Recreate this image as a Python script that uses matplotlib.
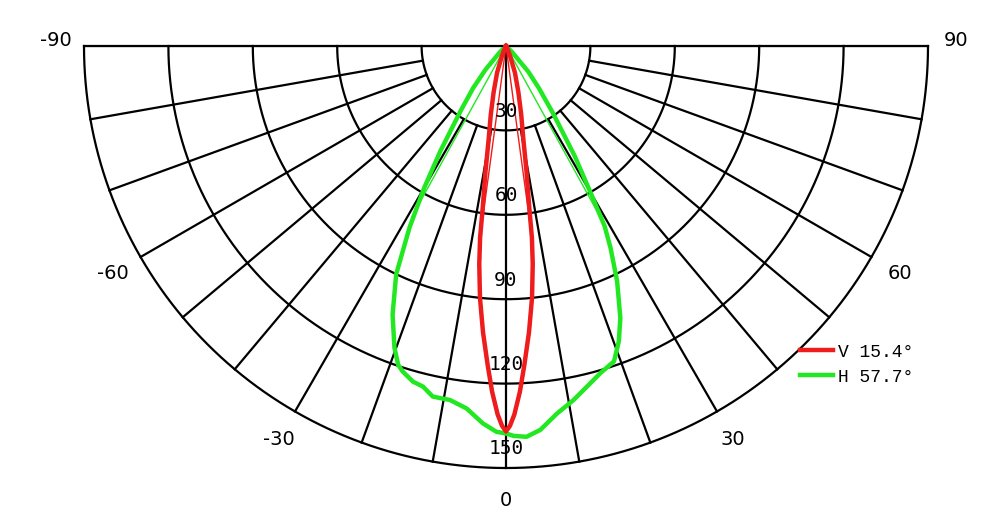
import numpy as np
import matplotlib.pyplot as plt

# Rings and angle labels
ring_values = [30, 60, 90, 120, 150]
angle_ticks = [-90, -60, -30, 0, 30, 60, 90]
spoke_angles = [a for a in range(-80, 90, 10) if a != 0]

# V curve (narrow beam), angle in degrees, intensity
v_angles = [-90, -30, -25, -22, -18.5, -15, -12.5, -10.5, -9.3, -8.2, -7.7, -7.0, -5.9,
            -4.6, -3.3, -2.3, -1.3, -0.6, 0, 0.6, 1.3, 2.3, 3.3, 4.6, 5.9, 7.0, 7.7,
            8.2, 9.3, 10.5, 12.5, 15, 18.5, 22, 25, 30, 90]
v_values = [0, 0, 2, 4, 10, 17, 25, 34, 45, 58, 68.7, 78, 90,
            102, 113.5, 123, 131, 135, 137, 135, 131, 123, 113.5, 102, 90, 78, 68.7,
            58, 45, 34, 25, 17, 10, 4, 2, 0, 0]

# H curve (wide beam)
h_angles = [-90, -50, -45, -41, -38, -35, -32, -30, -28, -25.7, -22.9, -20.3, -18.7,
            -17.6, -15.5, -13.7, -11.8, -9.0, -6.2, -3.5, -1.4, 0, 1.1, 3.0, 5.1, 7.9,
            10.8, 14.0, 16.1, 18.9, 20.9, 22.8, 25.3, 27.4, 28.7, 30, 32, 35, 38, 41,
            45, 50, 90]
h_values = [0, 0, 3, 11, 19, 28, 44, 58, 73, 90, 103.6, 114.3, 119.6,
            121.4, 123.8, 124.6, 127.3, 127.4, 129.6, 134.4, 137.2, 137.7, 138.6, 139.1, 137, 131.9,
            128.1, 123.6, 121, 118.5, 112.4, 104.9, 92.4, 80.7, 73, 60, 46, 29, 19, 12,
            3, 0, 0]

v_beam = 15.4
h_beam = 57.7
red = '#ee1c1c'
green = '#22e822'

fig = plt.figure(figsize=(10, 5.19), dpi=100)
# polar axes keep a square box; the half disc sits in the middle of it
ax = fig.add_axes([0.084, -0.3083, 0.844, 1.6262], projection='polar')
ax.set_theta_zero_location('S')
ax.set_thetamin(-90)
ax.set_thetamax(90)
ax.set_rlim(0, 150)
ax.grid(False)
ax.set_xticks([])
ax.set_yticks([])
for s in ax.spines.values():
    s.set_visible(False)
ax.patch.set_visible(False)

# grid
th = np.radians(np.linspace(-90, 90, 721))
for r in ring_values:
    ax.plot(th, np.full_like(th, r), color='black', lw=1.6, clip_on=False, zorder=1)
for a in spoke_angles:
    ax.plot([np.radians(a)] * 2, [ring_values[0], ring_values[-1]], color='black', lw=1.6,
            clip_on=False, zorder=1)
for a in [-90, 0, 90]:
    ax.plot([np.radians(a)] * 2, [0, ring_values[-1]], color='black', lw=1.6,
            clip_on=False, zorder=1)

# curves
line_v, = ax.plot(np.radians(v_angles), v_values, color=red, lw=3.2, zorder=3, clip_on=False)
line_h, = ax.plot(np.radians(h_angles), h_values, color=green, lw=3.2, zorder=2, clip_on=False)

# beam angle lines (half of the peak)
for beam, vals, col, z in [(v_beam, v_values, red, 3), (h_beam, h_values, green, 2)]:
    for sgn in (-1, 1):
        ax.plot([np.radians(sgn * beam / 2)] * 2, [0, max(vals) / 2], color=col, lw=1, zorder=z)

# ring labels
for r in ring_values:
    ax.text(0, r - 6.8, str(r), ha='center', va='center', fontsize=14,
            family='DejaVu Sans Mono', zorder=5)

# angle labels
for a in angle_ticks:
    if abs(a) == 90:
        ax.text(np.radians(a), 160, str(a), ha='center', va='baseline', fontsize=14)
    else:
        ax.text(np.radians(a), 161.5, str(a), ha='center', va='center', fontsize=14)

fig.legend([line_v, line_h], ['V %.1f°' % v_beam, 'H %.1f°' % h_beam],
           loc='upper left', bbox_to_anchor=(0.8, 0.338), frameon=False,
           prop={'family': 'Liberation Mono', 'size': 13},
           handlelength=1.8, handletextpad=0.3, borderpad=0, borderaxespad=0,
           labelspacing=0.45)

fig.savefig('out.png', dpi=100)
